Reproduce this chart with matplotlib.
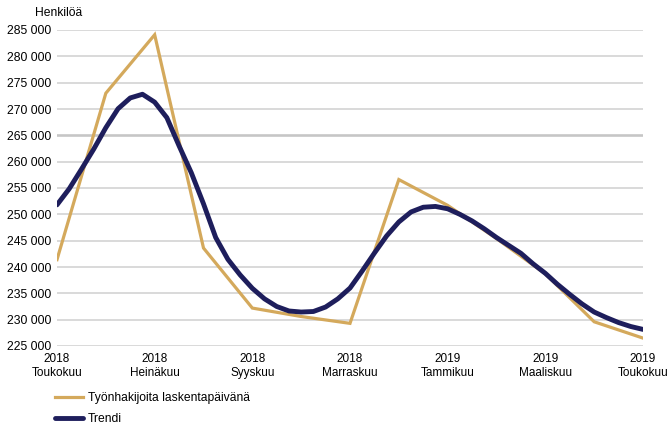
import matplotlib
matplotlib.use("Agg")
import matplotlib.pyplot as plt
import numpy as np

plt.rcParams['font.family'] = ['Liberation Sans', 'DejaVu Sans']

months = ["2018\nToukokuu", "", "2018\nHeinäkuu", "", "2018\nSyyskuu", "",
          "2018\nMarraskuu", "", "2019\nTammikuu", "", "2019\nMaaliskuu", "",
          "2019\nToukokuu"]

monthly = [241400, 273000, 284100, 243600, 232200, 230600, 229300,
           256600, 251700, 245400, 238700, 229600, 226500]

trend = [251800, 254850, 258550, 262350, 266450, 270050, 272100, 272800,
         271300, 268350, 263000, 257900, 252000, 245600, 241450, 238500,
         235950, 233950, 232500, 231650, 231450, 231550, 232400, 233950,
         236000, 239250, 242650, 245900, 248550, 250450, 251350, 251500,
         251050, 250000, 248750, 247250, 245600, 244100, 242600, 240600,
         238800, 236700, 234800, 233000, 231450, 230400, 229450, 228700,
         228150]

yticks = list(range(225000, 285001, 5000))
ytick_labels = [f"{v:,}".replace(",", " ") for v in yticks]

fig = plt.figure(figsize=(6.67, 4.25), dpi=100)
ax = fig.add_axes([57/667, 1 - 346/425, (643-57)/667, (346-30)/425])

x_month = np.arange(len(monthly))
x_trend = np.linspace(0, len(monthly) - 1, len(trend))

for v in yticks:
    if v == 265000:
        ax.axhline(v, color='#c6c6c6', lw=1.9, zorder=1)
    else:
        ax.axhline(v, color='#d0d0d0', lw=1.1, zorder=1)

ax.plot(x_month, monthly, color='#d4a95c', lw=2.3, solid_joinstyle='miter',
        label='Työnhakijoita laskentapäivänä', zorder=3)
ax.plot(x_trend, trend, color='#1e1e5c', lw=3.5, solid_capstyle='round',
        solid_joinstyle='round', label='Trendi', zorder=4)

ax.set_xlim(0, len(monthly) - 1)
ax.set_ylim(225000, 285000)
ax.set_yticks(yticks)
ax.set_yticklabels(ytick_labels, fontsize=8.7)
ax.set_xticks(x_month)
ax.set_xticklabels(months, fontsize=8.5, linespacing=1.2)
ax.tick_params(axis='x', length=0, pad=5)
ax.tick_params(axis='y', length=0, pad=4)
for s in ax.spines.values():
    s.set_visible(False)

fig.text(35/667, 1 - 13/425, "Henkilöä", fontsize=8.7, va='center', ha='left')

leg = fig.legend(loc='upper left', bbox_to_anchor=(55/667, 1 - 392/425),
                 frameon=False, fontsize=8.7, handlelength=2.3,
                 handletextpad=0.45, labelspacing=0.75, borderaxespad=0,
                 borderpad=0)

fig.savefig("out.png", dpi=100)
